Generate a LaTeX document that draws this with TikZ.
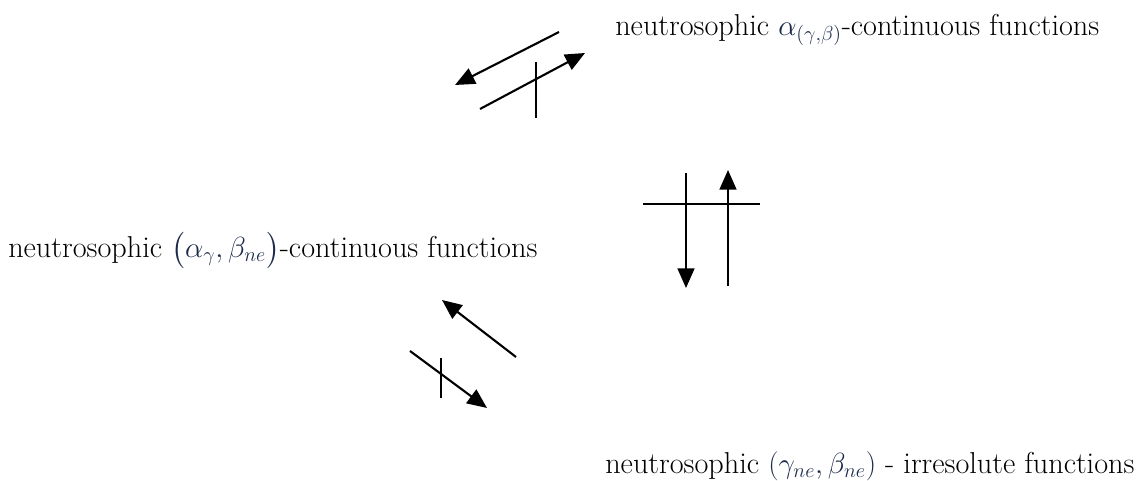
\documentclass[tikz,border=0pt]{standalone}
\usepackage{xcolor}
\usepackage{amsmath}
\usepackage{amssymb}
\usepackage{tikz}
\usetikzlibrary{arrows.meta,positioning}
\definecolor{mathink}{HTML}{1B2A4A}

\begin{document}
\begin{tikzpicture}[
  label/.style={anchor=west, inner sep=0pt, font=\fontsize{21.5}{25}\selectfont},
  arr/.style={-{Triangle[length=14pt,width=12pt]}, line width=1.5pt},
  tick/.style={line width=1.3pt}
]
  \useasboundingbox (0,0) rectangle (28.5,12);

  % the three classes
  \node[label] (ag) at (15.375,11.25) {neutrosophic \textcolor{mathink}{$\alpha_{(\gamma,\beta)}$}-continuous functions};
  \node[label] (agb) at (0.2,5.75) {neutrosophic \textcolor{mathink}{$\bigl(\alpha_{\gamma},\beta_{ne}\bigr)$}-continuous functions};
  \node[label] (irr) at (15.125,0.35) {neutrosophic \textcolor{mathink}{$(\gamma_{ne},\beta_{ne})$} - irresolute functions};

  % end points of the arrows
  \coordinate (a1s) at (13.975,11.2);
  \coordinate (a1e) at (11.375,9.875);
  \coordinate (a2s) at (12.0,9.275);
  \coordinate (a2e) at (14.625,10.675);
  \coordinate (t1a) at (13.4,10.45);
  \coordinate (t1b) at (13.4,9.05);

  \coordinate (v1s) at (17.15,7.675);
  \coordinate (v1e) at (17.15,4.8);
  \coordinate (v2s) at (18.2,4.85);
  \coordinate (v2e) at (18.2,7.75);
  \coordinate (h1a) at (16.075,6.9);
  \coordinate (h1b) at (19.0,6.9);

  \coordinate (b1s) at (12.9,3.075);
  \coordinate (b1e) at (11.05,4.5);
  \coordinate (b2s) at (10.25,3.225);
  \coordinate (b2e) at (12.175,1.8);
  \coordinate (t3a) at (11.025,3.05);
  \coordinate (t3b) at (11.025,2.05);

  \draw[arr] (a1s) -- (a1e);
  \draw[arr] (a2s) -- (a2e);
  \draw[tick] (t1a) -- (t1b);

  \draw[arr] (v1s) -- (v1e);
  \draw[arr] (v2s) -- (v2e);
  \draw[tick] (h1a) -- (h1b);

  \draw[arr] (b1s) -- (b1e);
  \draw[arr] (b2s) -- (b2e);
  \draw[tick] (t3a) -- (t3b);
\end{tikzpicture}
\end{document}
